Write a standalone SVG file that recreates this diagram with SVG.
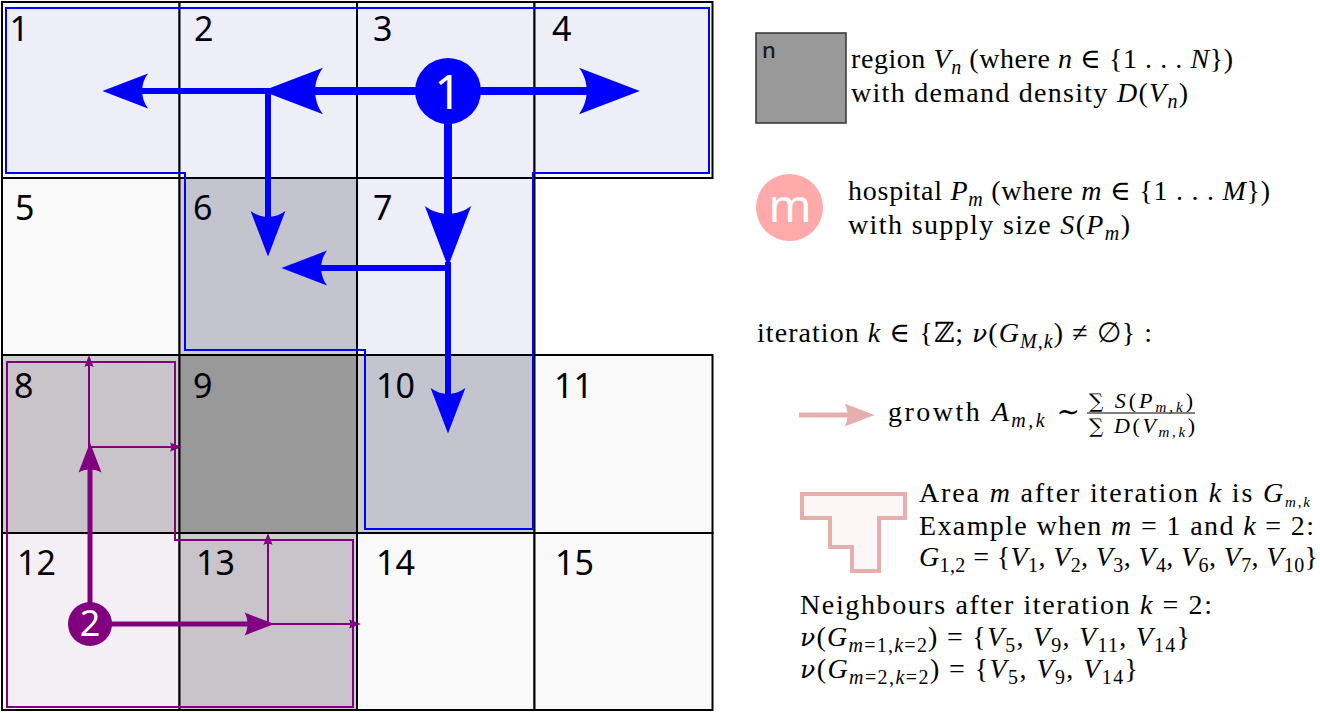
<svg xmlns="http://www.w3.org/2000/svg" width="1320" height="713" viewBox="0 0 1320 713">
<style>
.cell{stroke:#000;stroke-width:2}
.lo{fill:#f9f9f9}.mid{fill:#cdcdcd}.hi{fill:#999999}
.num{font-family:"Noto Sans",sans-serif;font-size:34px;fill:#000}
.t{font-family:"Liberation Serif","DejaVu Serif",serif;font-size:28px;fill:#000}
.f{font-family:"Liberation Serif","DejaVu Serif",serif;font-size:22px;fill:#000}
.sum{font-family:"DejaVu Serif",serif;font-size:20px}
.i{font-style:italic}
.s{font-size:20px}
.ss{font-size:15px}
.nu{font-family:"DejaVu Serif",serif;font-style:italic;font-size:25px}
.bl{stroke:#0000ff;fill:none}
.pu{stroke:#800080;fill:none}
</style>
<defs>
<marker id="ab" viewBox="0 -3 8 6" refX="3" refY="0" markerWidth="8" markerHeight="6" orient="auto" markerUnits="strokeWidth" overflow="visible"><path d="M7.6 0 L0 -2.9 C1.3 -1.2 1.3 1.2 0 2.9 Z" fill="#0000ff"/></marker>
<marker id="ap" viewBox="0 -2.5 6.5 5" refX="2.5" refY="0" markerWidth="6.5" markerHeight="5" orient="auto" markerUnits="strokeWidth" overflow="visible"><path d="M6 0 L0 -2.3 C0.8 -1 0.8 1 0 2.3 Z" fill="#800080"/></marker>
<marker id="ak" viewBox="0 -2.5 6.5 5" refX="2.5" refY="0" markerWidth="6.5" markerHeight="5" orient="auto" markerUnits="strokeWidth" overflow="visible"><path d="M6 0 L0 -2.3 C0.8 -1 0.8 1 0 2.3 Z" fill="#e8aeae"/></marker>
</defs>
<rect width="1320" height="713" fill="#fff"/>
<g id="cells">
<g id="v1"><rect class="cell lo" x="2" y="2" width="177.5" height="176"/><text class="num" x="9.5" y="41">1</text></g>
<g id="v2"><rect class="cell lo" x="179.5" y="2" width="177.5" height="176"/><text class="num" x="194" y="41">2</text></g>
<g id="v3"><rect class="cell lo" x="357" y="2" width="177.5" height="176"/><text class="num" x="373" y="41">3</text></g>
<g id="v4"><rect class="cell lo" x="534.5" y="2" width="178" height="176"/><text class="num" x="552" y="41">4</text></g>
<g id="v5"><rect class="cell lo" x="2" y="178" width="177.5" height="177"/><text class="num" x="15" y="220">5</text></g>
<g id="v6"><rect class="cell mid" x="179.5" y="178" width="177.5" height="177"/><text class="num" x="193" y="220">6</text></g>
<g id="v7"><rect class="cell lo" x="357" y="178" width="177.5" height="177"/><text class="num" x="373" y="220">7</text></g>
<g id="v8"><rect class="cell mid" x="2" y="355" width="177.5" height="178"/><text class="num" x="14" y="398">8</text></g>
<g id="v9"><rect class="cell hi" x="179.5" y="355" width="177.5" height="178"/><text class="num" x="193" y="398">9</text></g>
<g id="v10"><rect class="cell mid" x="357" y="355" width="177.5" height="178"/><text class="num" x="376" y="398">10</text></g>
<g id="v11"><rect class="cell lo" x="534.5" y="355" width="178" height="178"/><text class="num" x="554" y="398">11</text></g>
<g id="v12"><rect class="cell lo" x="2" y="533" width="177.5" height="177"/><text class="num" x="17" y="575">12</text></g>
<g id="v13"><rect class="cell mid" x="179.5" y="533" width="177.5" height="177"/><text class="num" x="196" y="575">13</text></g>
<g id="v14"><rect class="cell lo" x="357" y="533" width="177.5" height="177"/><text class="num" x="376" y="575">14</text></g>
<g id="v15"><rect class="cell lo" x="534.5" y="533" width="178" height="177"/><text class="num" x="555" y="575">15</text></g>
</g>
<g id="area1"><path d="M6 8 H709 V173 H533 V529 H365 V350 H185 V173 H6 Z" fill="#0000ff" fill-opacity="0.045" stroke="#0000ff" stroke-width="2"/></g>
<g id="area2"><path d="M7 362 H175 V540 H353 V707 H7 Z" fill="#800080" fill-opacity="0.04" stroke="#800080" stroke-width="2"/></g>
<g id="connectors">
<line class="bl" x1="420" y1="91" x2="299" y2="91" stroke-width="8" marker-end="url(#ab)"/>
<line class="bl" x1="470" y1="91" x2="603" y2="91" stroke-width="8" marker-end="url(#ab)"/>
<line class="bl" x1="448" y1="110" x2="448" y2="230" stroke-width="8" marker-end="url(#ab)"/>
<line class="bl" x1="266" y1="91" x2="130" y2="91" stroke-width="6" marker-end="url(#ab)"/>
<line class="bl" x1="268" y1="88" x2="268" y2="229" stroke-width="6" marker-end="url(#ab)"/>
<line class="bl" x1="451" y1="268" x2="309" y2="268" stroke-width="6" marker-end="url(#ab)"/>
<line class="bl" x1="448" y1="262" x2="448" y2="406" stroke-width="6" marker-end="url(#ab)"/>
<line class="pu" x1="90" y1="610" x2="90" y2="460" stroke-width="5" marker-end="url(#ap)"/>
<line class="pu" x1="100" y1="624" x2="257" y2="624" stroke-width="5" marker-end="url(#ap)"/>
<line class="pu" x1="89" y1="449" x2="89" y2="362" stroke-width="2" marker-end="url(#ap)"/>
<line class="pu" x1="89" y1="447" x2="175" y2="447" stroke-width="2" marker-end="url(#ap)"/>
<line class="pu" x1="268" y1="625" x2="268" y2="540" stroke-width="2" marker-end="url(#ap)"/>
<line class="pu" x1="268" y1="624" x2="354" y2="624" stroke-width="2" marker-end="url(#ap)"/>
</g>
<g id="p1"><circle cx="448" cy="91" r="33" fill="#0000ff"/><text x="448" y="109" text-anchor="middle" style="font-family:'Noto Sans',sans-serif;font-size:48px;fill:#fff">1</text></g>
<g id="p2"><circle cx="90" cy="624" r="22" fill="#800080"/><text x="90" y="636" text-anchor="middle" style="font-family:'Noto Sans',sans-serif;font-size:36px;fill:#fff">2</text></g>
<g id="legend-region">
<rect x="756" y="33" width="90" height="90" fill="#999999" stroke="#333" stroke-width="1.5"/>
<text x="762" y="58" style="font-family:'Noto Sans',sans-serif;font-size:22px;font-weight:500;fill:#1a1a1a">n</text>
<text class="t" x="851" y="68" textLength="382" lengthAdjust="spacing">region <tspan class="i">V</tspan><tspan class="i s" dy="6">n</tspan><tspan dy="-6"> (where </tspan><tspan class="i">n</tspan> ∈ {1 . . . <tspan class="i">N</tspan>})</text>
<text class="t" x="851" y="102" textLength="337" lengthAdjust="spacing">with demand density <tspan class="i">D</tspan>(<tspan class="i">V</tspan><tspan class="i s" dy="6">n</tspan><tspan dy="-6">)</tspan></text>
</g>
<g id="legend-hospital">
<circle cx="789.5" cy="207.5" r="33.5" fill="#ffaaaa"/>
<text x="790" y="222" text-anchor="middle" style="font-family:'Noto Sans',sans-serif;font-size:46px;fill:#fff">m</text>
<text class="t" x="848" y="200" textLength="422" lengthAdjust="spacing">hospital <tspan class="i">P</tspan><tspan class="i s" dy="6">m</tspan><tspan dy="-6"> (where </tspan><tspan class="i">m</tspan> ∈ {1 . . . <tspan class="i">M</tspan>})</text>
<text class="t" x="848" y="234" textLength="282" lengthAdjust="spacing">with supply size <tspan class="i">S</tspan>(<tspan class="i">P</tspan><tspan class="i s" dy="6">m</tspan><tspan dy="-6">)</tspan></text>
</g>
<g id="legend-iteration">
<text class="t" x="757" y="342" textLength="395" lengthAdjust="spacing">iteration <tspan class="i">k</tspan> ∈ {ℤ; <tspan class="nu">ν</tspan>(<tspan class="i">G</tspan><tspan class="i s" dy="6">M,k</tspan><tspan dy="-6">) ≠ ∅} :</tspan></text>
</g>
<g id="legend-growth">
<line x1="799" y1="415" x2="857" y2="415" stroke="#e8aeae" stroke-width="5" marker-end="url(#ak)"/>
<text class="t" x="888" y="421" textLength="192" lengthAdjust="spacing">growth <tspan class="i">A</tspan><tspan class="i s" dy="6">m,k</tspan><tspan dy="-6"> ∼</tspan></text>
<text class="f" x="1089" y="408" textLength="104" lengthAdjust="spacing"><tspan class="sum">∑</tspan> <tspan class="i">S</tspan>(<tspan class="i">P</tspan><tspan class="i ss" dy="4">m,k</tspan><tspan dy="-4">)</tspan></text>
<line x1="1087" y1="413" x2="1195" y2="413" stroke="#000" stroke-width="1"/>
<text class="f" x="1089" y="433" textLength="106" lengthAdjust="spacing"><tspan class="sum">∑</tspan> <tspan class="i">D</tspan>(<tspan class="i">V</tspan><tspan class="i ss" dy="4">m,k</tspan><tspan dy="-4">)</tspan></text>
</g>
<g id="legend-area">
<path d="M802 494 H905 V518 H879 V571 H852 V547 H830 V518 H802 Z" fill="#fdf6f6" stroke="#e8aeae" stroke-width="4"/>
<text class="t" x="919" y="502" textLength="391" lengthAdjust="spacing">Area <tspan class="i">m</tspan> after iteration <tspan class="i">k</tspan> is <tspan class="i">G</tspan><tspan class="i ss" dy="5">m,k</tspan></text>
<text class="t" x="919" y="535" textLength="395" lengthAdjust="spacing">Example when <tspan class="i">m</tspan> = 1 and <tspan class="i">k</tspan> = 2:</text>
<text class="t" x="919" y="566" textLength="399" lengthAdjust="spacing"><tspan class="i">G</tspan><tspan class="s" dy="6">1,2</tspan><tspan dy="-6"> = {</tspan><tspan class="i">V</tspan><tspan class="s" dy="6">1</tspan><tspan dy="-6">, </tspan><tspan class="i">V</tspan><tspan class="s" dy="6">2</tspan><tspan dy="-6">, </tspan><tspan class="i">V</tspan><tspan class="s" dy="6">3</tspan><tspan dy="-6">, </tspan><tspan class="i">V</tspan><tspan class="s" dy="6">4</tspan><tspan dy="-6">, </tspan><tspan class="i">V</tspan><tspan class="s" dy="6">6</tspan><tspan dy="-6">, </tspan><tspan class="i">V</tspan><tspan class="s" dy="6">7</tspan><tspan dy="-6">, </tspan><tspan class="i">V</tspan><tspan class="s" dy="6">10</tspan><tspan dy="-6">}</tspan></text>
</g>
<g id="legend-neighbours">
<text class="t" x="800" y="614" textLength="412" lengthAdjust="spacing">Neighbours after iteration <tspan class="i">k</tspan> = 2:</text>
<text class="t" x="800" y="646" textLength="390" lengthAdjust="spacing"><tspan class="nu">ν</tspan>(<tspan class="i">G</tspan><tspan class="i s" dy="6">m</tspan><tspan class="s">=1,</tspan><tspan class="i s">k</tspan><tspan class="s">=2</tspan><tspan dy="-6">) = {</tspan><tspan class="i">V</tspan><tspan class="s" dy="6">5</tspan><tspan dy="-6">, </tspan><tspan class="i">V</tspan><tspan class="s" dy="6">9</tspan><tspan dy="-6">, </tspan><tspan class="i">V</tspan><tspan class="s" dy="6">11</tspan><tspan dy="-6">, </tspan><tspan class="i">V</tspan><tspan class="s" dy="6">14</tspan><tspan dy="-6">}</tspan></text>
<text class="t" x="800" y="678" textLength="338" lengthAdjust="spacing"><tspan class="nu">ν</tspan>(<tspan class="i">G</tspan><tspan class="i s" dy="6">m</tspan><tspan class="s">=2,</tspan><tspan class="i s">k</tspan><tspan class="s">=2</tspan><tspan dy="-6">) = {</tspan><tspan class="i">V</tspan><tspan class="s" dy="6">5</tspan><tspan dy="-6">, </tspan><tspan class="i">V</tspan><tspan class="s" dy="6">9</tspan><tspan dy="-6">, </tspan><tspan class="i">V</tspan><tspan class="s" dy="6">14</tspan><tspan dy="-6">}</tspan></text>
</g>
</svg>
